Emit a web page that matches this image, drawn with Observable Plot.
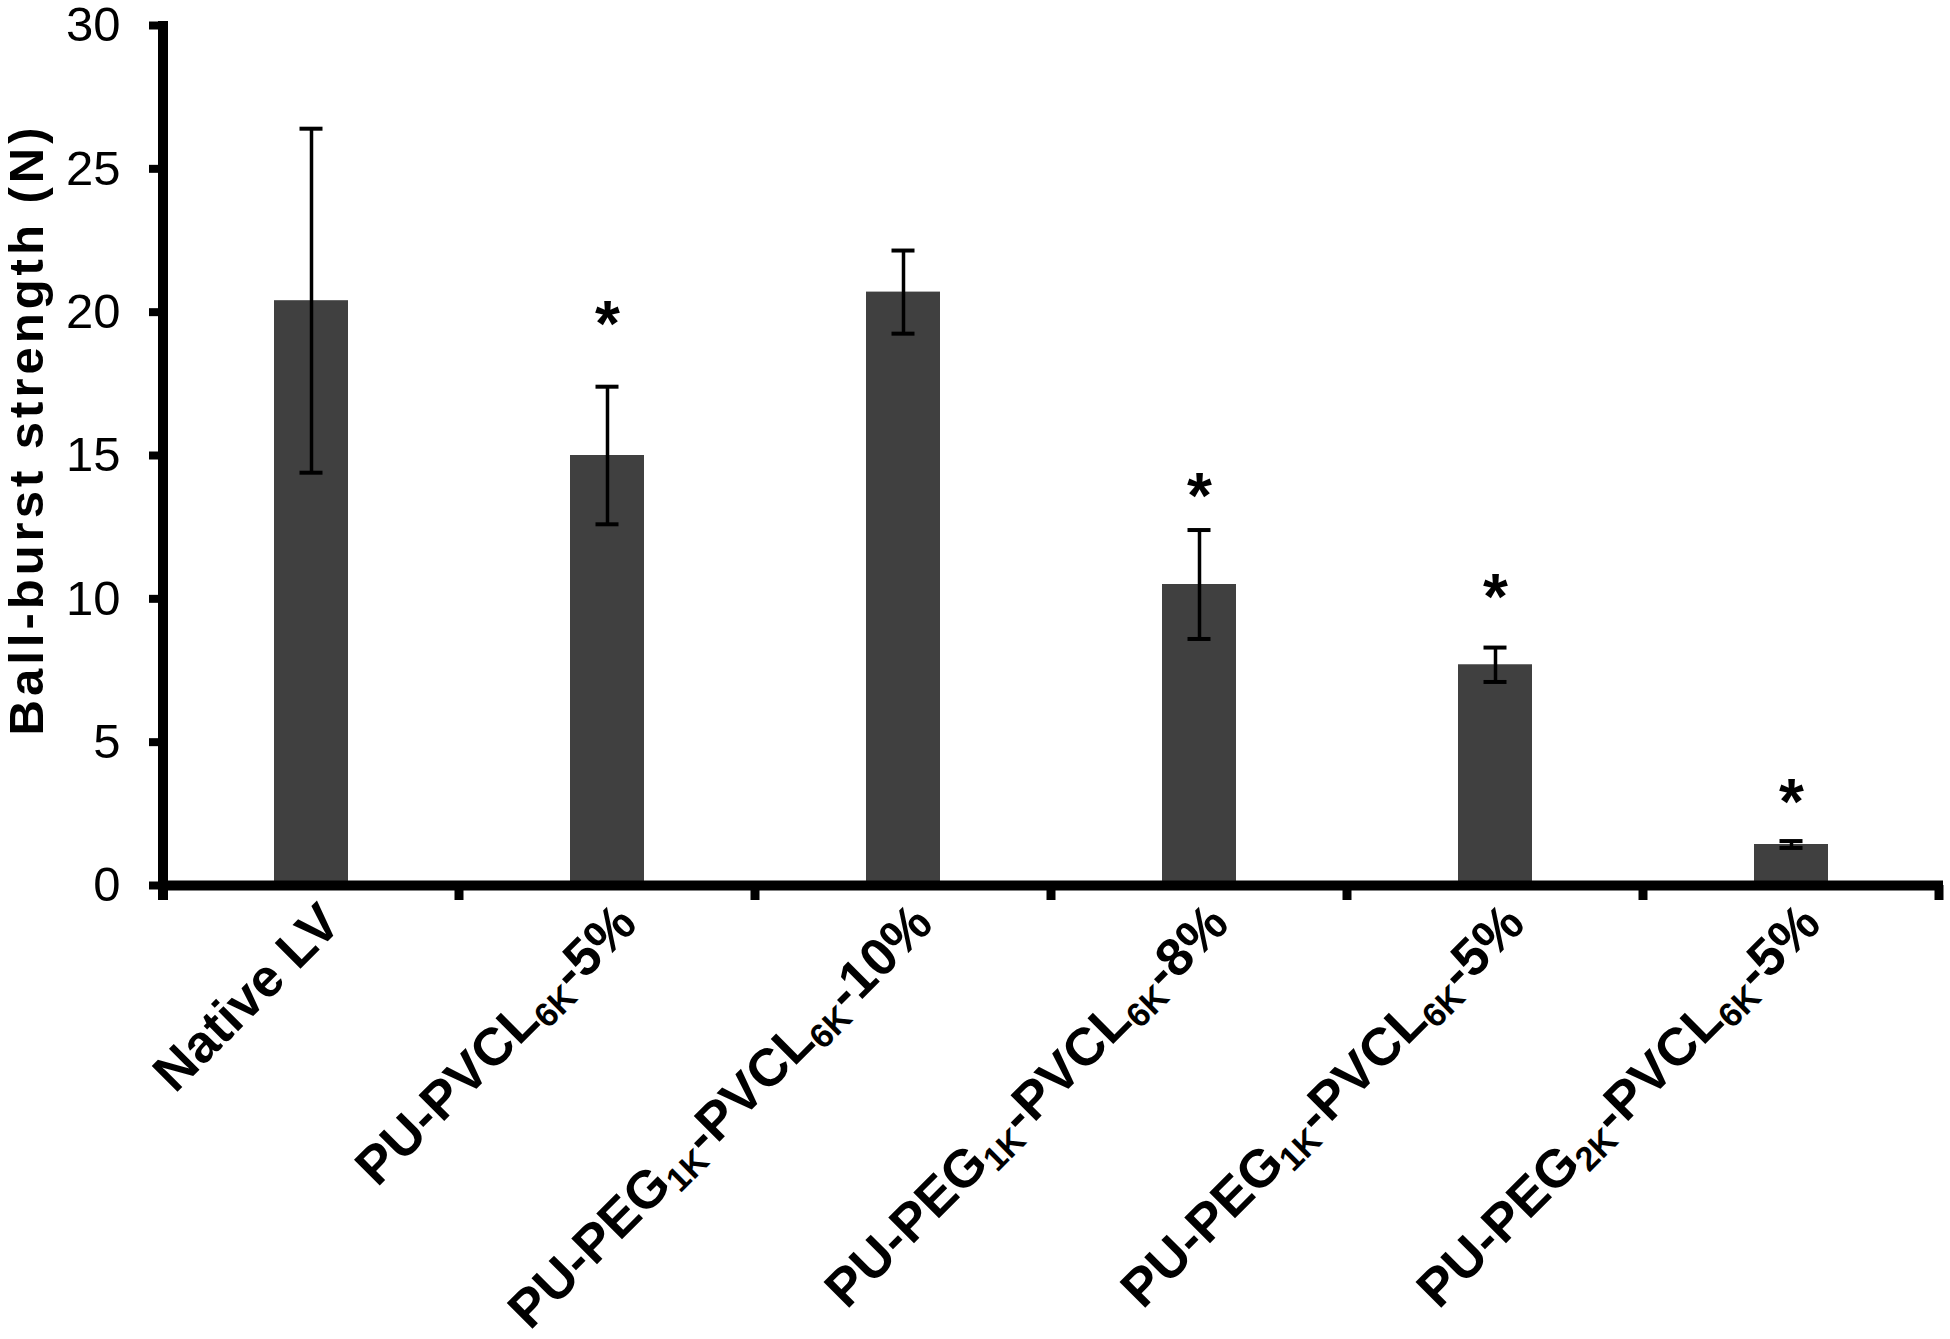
<!DOCTYPE html>
<html><head><meta charset="utf-8">
<script src="https://cdn.jsdelivr.net/npm/d3@7"></script>
<script src="https://cdn.jsdelivr.net/npm/@observablehq/plot@0.6"></script>
<style>body{margin:0;background:#fff;}</style>
</head><body><div id="chart"></div>
<script>
const categories = ["Native LV","PU-PVCL6K-5%","PU-PEG1K-PVCL6K-10%","PU-PEG1K-PVCL6K-8%","PU-PEG1K-PVCL6K-5%","PU-PEG2K-PVCL6K-5%"];
const tickLabels = ["Native LV","PU-PVCL_{6K}-5%","PU-PEG_{1K}-PVCL_{6K}-10%","PU-PEG_{1K}-PVCL_{6K}-8%","PU-PEG_{1K}-PVCL_{6K}-5%","PU-PEG_{2K}-PVCL_{6K}-5%"];
const means = [20.4, 15.0, 20.7, 10.5, 7.7, 1.43];
const errors = [6.0, 2.4, 1.45, 1.9, 0.6, 0.12];
const starY = [null, 20.05, null, 14.05, 10.55, 3.4];
const yTicks = [0, 5, 10, 15, 20, 25, 30];
const yLabel = "Ball-burst strength (N)";

const data = categories.map((c, i) => ({cat: c, mean: means[i], err: errors[i], star: starY[i], label: tickLabels[i]}));
const font = "'Liberation Sans', Arial, Helvetica, sans-serif";
const labelSize = 53, subSize = 34, subShift = 9, starSize = 64;

const axisFrame = Plot.tickX(categories, {
  x: d => d,
  render(index, scales) {
    const {x, y} = scales;
    const step = x.step(), bw = x.bandwidth();
    const gap = (step - bw) / 2;
    const bounds = categories.map(c => x(c) - gap);
    bounds.push(x(categories[categories.length - 1]) + bw + gap);
    const y0 = y(0);
    const g = d3.create("svg:g").attr("stroke", "black").attr("fill", "none");
    g.append("line").attr("x1", bounds[0]).attr("x2", bounds[0]).attr("y1", y(30) - 4).attr("y2", y0 + 15).attr("stroke-width", 10);
    g.selectAll("line.b").data(bounds.slice(1)).join("line").attr("class", "b")
      .attr("x1", d => d).attr("x2", d => d).attr("y1", y0).attr("y2", y0 + 15).attr("stroke-width", 9);
    return g.node();
  }
});

const chart = Plot.plot({
  width: 1950,
  height: 1339,
  marginTop: 25,
  marginBottom: 454,
  marginLeft: 163,
  marginRight: 11,
  style: {background: "white", fontFamily: font, overflow: "visible"},
  x: {domain: categories, paddingInner: 0.75, paddingOuter: 0.375, axis: null},
  y: {domain: [0, 30], axis: null},
  marks: [
    Plot.barY(data, {x: "cat", y: "mean", fill: "#404040"}),
    Plot.ruleX(data, {x: "cat", y1: d => d.mean - d.err, y2: d => d.mean + d.err, stroke: "black", strokeWidth: 3.5}),
    Plot.tickY(data, {x: "cat", y: d => d.mean + d.err, stroke: "black", strokeWidth: 4, insetLeft: 25.5, insetRight: 25.5}),
    Plot.tickY(data, {x: "cat", y: d => d.mean - d.err, stroke: "black", strokeWidth: 4, insetLeft: 25.5, insetRight: 25.5}),
    Plot.ruleY([0], {stroke: "black", strokeWidth: 10, insetLeft: -5, insetRight: -4}),
    axisFrame,
    Plot.axisY({ticks: yTicks, tickSize: 14, tickPadding: 29, fontSize: 49, strokeWidth: 8, stroke: "black", fill: "black", tickFormat: d => String(d), label: null}),
    Plot.text([yLabel], {text: d => d, frameAnchor: "left", textAnchor: "middle", rotate: -90, dx: -136, dy: -26, fontSize: 49, fontWeight: "bold", fill: "black"}),
    Plot.text(data, {x: "cat", text: "label", frameAnchor: "bottom", rotate: -45, textAnchor: "end", lineAnchor: "top", dx: 5, dy: 14, fontSize: labelSize, fontWeight: "bold", fill: "black"}),
    Plot.text(data.filter(d => d.star != null), {x: "cat", y: "star", text: () => "*", fontSize: starSize, fontWeight: "bold", lineAnchor: "bottom", dy: 0.555 * starSize, fill: "black"})
  ]
});

function richify(el) {
  const s = el.textContent;
  const re = /_\{([^}]*)\}/g;
  const parts = [];
  let last = 0, m;
  while ((m = re.exec(s))) {
    if (m.index > last) parts.push([s.slice(last, m.index), false]);
    parts.push([m[1], true]);
    last = re.lastIndex;
  }
  if (last < s.length) parts.push([s.slice(last), false]);
  el.textContent = "";
  let shifted = false;
  for (const [t, sub] of parts) {
    const ts = d3.select(el).append("tspan").text(t);
    if (sub) { ts.attr("font-size", subSize).attr("dy", subShift); shifted = true; }
    else if (shifted) { ts.attr("dy", -subShift); shifted = false; }
  }
}
d3.select(chart).selectAll("text").filter(function() { return this.textContent.includes("_{"); }).each(function() { richify(this); });
d3.select(chart).selectAll("text").filter(function() { return this.textContent === yLabel; }).attr("letter-spacing", 4);

document.getElementById("chart").appendChild(chart);
</script>
</body></html>
